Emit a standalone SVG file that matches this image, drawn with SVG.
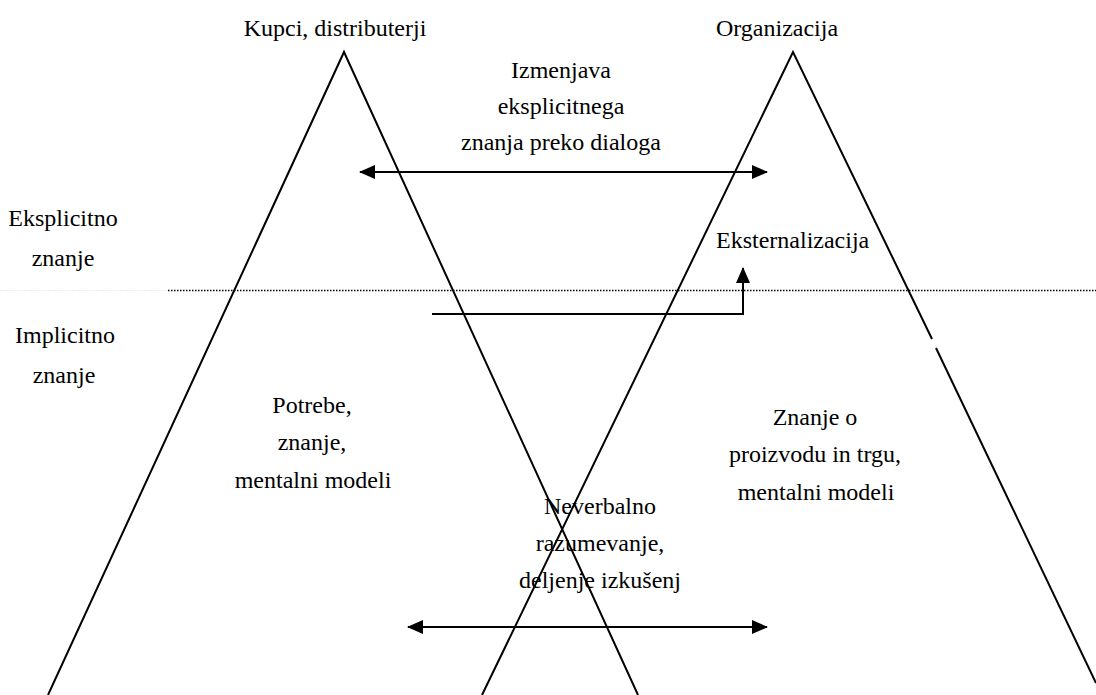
<svg xmlns="http://www.w3.org/2000/svg" width="1096" height="695" viewBox="0 0 1096 695">
  <style>
    .t { font-family: "Liberation Serif", "Times New Roman", serif; font-size: 24px; fill: #000; }
    .m { text-anchor: middle; }
    .edge { fill: none; stroke: #000; stroke-width: 2; }
    .dot { fill: none; stroke: #000; stroke-width: 1.5; stroke-dasharray: 1.5 1.5; }
  </style>
  <defs>
    <marker id="arrow" viewBox="0 0 16 14" refX="15" refY="7" markerWidth="16" markerHeight="14" markerUnits="userSpaceOnUse" orient="auto-start-reverse">
      <path d="M0,0 L16,7 L0,14 Z" fill="#000"/>
    </marker>
  </defs>
  <rect width="1096" height="695" fill="#fff"/>

  <!-- knowledge level divider -->
  <g id="divider">
    <line x1="0" y1="290.5" x2="168" y2="290.5" stroke="#e6e6e6" stroke-width="1" stroke-dasharray="1.5 1.5"/>
    <line class="dot" x1="168" y1="290.5" x2="1096" y2="290.5"/>
  </g>

  <!-- customers pyramid -->
  <g id="customers">
    <path class="edge" d="M48,695 L344,52 L638,695"/>
    <text class="t m" x="335" y="36">Kupci, distributerji</text>
    <text class="t m" x="312" y="413">Potrebe,</text>
    <text class="t m" x="312" y="450">znanje,</text>
    <text class="t m" x="313" y="488">mentalni modeli</text>
  </g>

  <!-- organization pyramid -->
  <g id="organization">
    <path class="edge" d="M482,695 L793,52 L932,339"/>
    <line class="edge" x1="936" y1="348" x2="1096" y2="683"/>
    <text class="t m" x="777" y="36">Organizacija</text>
    <text class="t m" x="815" y="425">Znanje o</text>
    <text class="t m" x="815" y="462">proizvodu in trgu,</text>
    <text class="t m" x="816" y="500">mentalni modeli</text>
  </g>

  <!-- side labels -->
  <g id="explicit">
    <text class="t m" x="63" y="226">Eksplicitno</text>
    <text class="t m" x="63" y="266">znanje</text>
  </g>
  <g id="implicit">
    <text class="t m" x="65" y="343">Implicitno</text>
    <text class="t m" x="64" y="383">znanje</text>
  </g>

  <!-- exchange labels -->
  <g id="dialog">
    <text class="t m" x="561" y="78">Izmenjava</text>
    <text class="t m" x="561" y="114">eksplicitnega</text>
    <text class="t m" x="561" y="150">znanja preko dialoga</text>
  </g>
  <g id="externalization">
    <text class="t" x="716" y="248">Eksternalizacija</text>
  </g>
  <g id="nonverbal">
    <text class="t m" x="600" y="514">Neverbalno</text>
    <text class="t m" x="600" y="551">razumevanje,</text>
    <text class="t m" x="600" y="588">deljenje izkušenj</text>
  </g>

  <!-- connectors -->
  <g id="connectors">
    <line class="edge" x1="360" y1="172" x2="767" y2="172" marker-start="url(#arrow)" marker-end="url(#arrow)"/>
    <polyline class="edge" points="432,314 743,314 743,268" marker-end="url(#arrow)"/>
    <line class="edge" x1="408" y1="627" x2="767" y2="627" marker-start="url(#arrow)" marker-end="url(#arrow)"/>
  </g>
</svg>
